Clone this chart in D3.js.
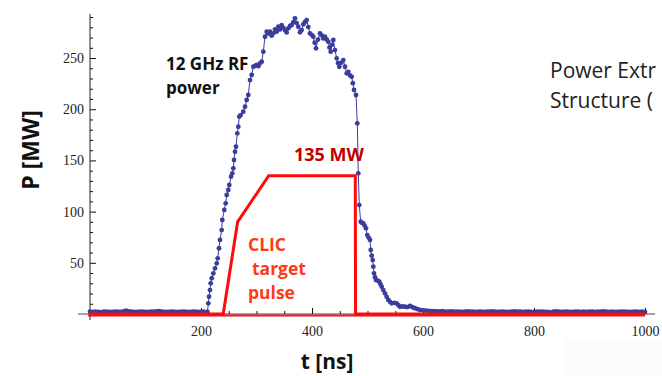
<!DOCTYPE html>
<html>
<head>
<meta charset="utf-8">
<script src="https://cdn.jsdelivr.net/npm/d3@7"></script>
<style>
  body { margin: 0; background: #fff; }
  svg { display: block; }
</style>
</head>
<body>
<svg width="662" height="376"></svg>
<script>
// Measured RF power, leading baseline (every 5 ns from 0 ns).
var preStart = 0, preStep = 5;
var prePower = [2.2, 2.0, 2.3, 2.1, 1.9, 2.2, 2.4, 2.1, 2.0, 2.3, 2.2, 2.1, 2.5, 3.2,
    2.6, 2.2, 2.0, 2.1, 2.3, 2.2, 2.0, 2.1, 2.4, 2.2, 2.6, 2.9, 2.4, 2.1, 2.0, 2.2,
    2.3, 2.1, 2.0, 2.2, 2.4, 2.1, 2.0, 2.3, 2.2, 2.1, 2.0, 2.2];

// Measured RF power, the pulse itself.
var pulseT = [211.7, 213.2, 214.4, 216.2, 217.5, 219.3, 222.2, 225.2, 228.3, 230.1,
    232.4, 234.2, 237.3, 238.4, 242.0, 244.5, 246.3, 249.2, 251.0, 254.1, 256.4,
    258.2, 259.5, 261.3, 263.1, 265.4, 267.2, 269.0, 271.5, 276.2, 279.3, 282.3,
    285.2, 288.3, 291.4, 294.2, 297.3, 300.4, 303.4, 306.3, 309.4, 312.3, 315.3,
    318.4, 321.3, 324.3, 327.3, 330.3, 333.4, 336.4, 339.3, 342.4, 345.4, 348.4,
    351.4, 354.3, 357.3, 360.4, 363.4, 366.4, 369.4, 372.3, 375.3, 378.4, 381.4,
    384.5, 387.5, 390.5, 393.4, 396.4, 399.3, 402.3, 404.8, 407.2, 410.8, 414.4,
    417.4, 420.4, 423.4, 426.4, 429.4, 431.5, 433.7, 436.0, 438.4, 441.4, 444.5,
    446.8, 449.2, 452.8, 456.4, 459.5, 462.5, 465.5, 468.5, 471.5, 473.6, 475.7,
    479.3, 481.6, 483.4, 485.2, 487.7, 490.0, 492.4, 494.8, 497.3, 499.6, 502.0,
    504.5, 505.8, 507.6, 509.4, 510.5, 511.7, 513.5, 515.3, 518.3, 521.3, 523.5,
    525.6, 528.5, 531.5, 534.5, 537.5, 540.5, 543.6, 548.1, 552.6, 555.6, 558.6,
    563.1, 567.6, 572.1, 576.6, 581.1, 585.6, 590.1, 594.6];
var pulseP = [2.0, 10.4, 16.9, 23.4, 30.0, 34.9, 39.7, 44.6, 49.5, 54.4,
    64.2, 72.3, 82.0, 91.8, 101.6, 108.1, 116.2, 121.1, 126.0, 134.1, 137.4,
    142.3, 150.4, 158.5, 163.4, 176.5, 182.9, 192.7, 194.3, 197.6, 202.4, 209.0,
    213.9, 228.5, 233.4, 241.5, 242.4, 243.2, 242.0, 244.8, 246.4, 256.2, 270.8,
    275.7, 273.9, 275.7, 271.8, 274.1, 278.0, 275.7, 280.6, 277.9, 282.2, 279.5,
    277.3, 275.0, 279.0, 281.4, 282.2, 285.0, 288.8, 284.1, 280.6, 275.2, 277.3,
    283.0, 285.4, 287.1, 280.2, 274.1, 272.7, 270.8, 265.0, 259.5, 268.0, 274.1,
    272.2, 269.1, 270.8, 268.2, 265.9, 260.4, 256.2, 262.9, 267.6, 257.8, 249.7,
    245.1, 241.5, 245.5, 248.0, 241.5, 235.1, 236.5, 233.0, 231.7, 225.4, 218.8,
    213.9, 186.2, 137.4, 106.4, 90.1, 89.0, 88.6, 86.4, 83.7, 77.1, 74.6,
    72.3, 62.5, 57.0, 52.7, 46.2, 39.7, 36.0, 33.2, 32.6, 31.5, 29.0,
    26.7, 23.4, 20.2, 16.8, 13.7, 11.9, 10.4, 10.9, 10.4, 8.6, 7.1,
    7.4, 7.1, 6.8, 7.8, 6.6, 5.6, 4.7, 3.9];

// Measured RF power, trailing baseline (every 5 ns from 600 ns).
var postStart = 600, postStep = 5;
var postPower = [3.6, 3.2, 3.0, 2.8, 2.9, 2.6, 2.5, 2.7, 2.4, 2.3, 2.5, 2.2, 2.4, 2.3,
    2.1, 2.2, 2.6, 2.4, 2.2, 2.1, 2.3, 2.2, 2.0, 2.2, 2.4, 2.5, 2.2, 2.1, 2.3, 2.2,
    2.0, 2.1, 2.3, 2.6, 2.4, 2.2, 2.1, 2.2, 2.3, 2.1, 2.0, 2.2, 2.4, 2.2, 2.1, 2.0,
    1.6, 2.3, 2.5, 2.2, 2.1, 2.3, 2.2, 2.0, 2.1, 2.4, 2.3, 2.1, 2.2, 2.0, 2.2, 2.3,
    2.1, 2.2, 2.4, 2.6, 2.3, 2.1, 2.2, 2.0, 2.1, 2.3, 2.2, 2.4, 2.1, 2.0, 2.2, 2.3,
    2.1, 2.2, 2.0];

// CLIC target pulse (corner points).
var targetT = [0, 240, 266, 322, 478, 478.5, 1000];
var targetP = [0, 0, 90, 135, 135, 0, 0];

// Axis ticks.
var xMajor = [200, 400, 600, 800, 1000];
var xMinor = [50, 100, 150, 250, 300, 350, 450, 500, 550, 650, 700, 750, 850, 900, 950];
var yMajor = [50, 100, 150, 200, 250];
var yMinor = [10, 20, 30, 40, 60, 70, 80, 90, 110, 120, 130, 140, 160, 170, 180, 190,
    210, 220, 230, 240, 260, 270, 280, 290];

// Build the measured series.
var rf = [];
prePower.forEach(function (p, i) { rf.push([preStart + i * preStep, p]); });
pulseT.forEach(function (t, i) { rf.push([t, pulseP[i]]); });
postPower.forEach(function (p, i) { rf.push([postStart + i * postStep, p]); });
var target = targetT.map(function (t, i) { return [t, targetP[i]]; });

var svg = d3.select("svg");

var x = d3.scaleLinear().domain([0, 1000]).range([90, 645]);
var y = d3.scaleLinear().domain([0, 293]).range([314, 14]);

// faint block bottom right
svg.append("rect")
    .attr("x", 563).attr("y", 338).attr("width", 99).attr("height", 38)
    .attr("fill", "#fcfcfc");

var serif = "'Liberation Serif', 'DejaVu Serif', serif";
var sans = "'Open Sans', 'Liberation Sans', sans-serif";

// axis lines, origin style
svg.append("line")
    .attr("x1", x(0) - 12).attr("x2", x(1000) + 10)
    .attr("y1", y(0)).attr("y2", y(0))
    .attr("stroke", "#444").attr("stroke-width", 1);
svg.append("line")
    .attr("x1", x(0)).attr("x2", x(0))
    .attr("y1", y(293)).attr("y2", y(0) + 6)
    .attr("stroke", "#222").attr("stroke-width", 1);

// y axis: ticks point into the plot, labels on the left
var yAxis = svg.append("g")
    .attr("transform", "translate(" + x(0) + ",0)")
    .call(d3.axisLeft(y).tickValues(yMajor).tickSizeInner(-6).tickSizeOuter(0).tickPadding(6));
var yAxisMinor = svg.append("g")
    .attr("transform", "translate(" + x(0) + ",0)")
    .call(d3.axisLeft(y).tickValues(yMinor).tickSizeInner(-3).tickSizeOuter(0).tickFormat(""));

// x axis: ticks point up, labels below
var xAxis = svg.append("g")
    .attr("transform", "translate(0," + y(0) + ")")
    .call(d3.axisBottom(x).tickValues(xMajor).tickFormat(d3.format("d"))
        .tickSizeInner(-6).tickSizeOuter(0).tickPadding(12));
var xAxisMinor = svg.append("g")
    .attr("transform", "translate(0," + y(0) + ")")
    .call(d3.axisBottom(x).tickValues(xMinor).tickSizeInner(-3).tickSizeOuter(0).tickFormat(""));

[yAxis, yAxisMinor, xAxis, xAxisMinor].forEach(function (g) {
    g.select(".domain").remove();
    g.selectAll(".tick line").attr("stroke", "#111");
    g.selectAll("text")
        .attr("font-family", serif)
        .attr("font-size", 14)
        .attr("fill", "#222");
});

// red target pulse baseline + shape
var line = d3.line()
    .x(function (d) { return x(d[0]); })
    .y(function (d) { return y(d[1]); });

svg.append("line")
    .attr("x1", x(0) - 2).attr("x2", x(1000))
    .attr("y1", y(0) + 1.5).attr("y2", y(0) + 1.5)
    .attr("stroke", "#e8141e").attr("stroke-width", 2);

// measured RF power
var blue = "#3b3d9c";
svg.append("path")
    .datum(rf)
    .attr("d", line)
    .attr("fill", "none")
    .attr("stroke", blue)
    .attr("stroke-width", 1);
svg.append("g")
    .selectAll("circle")
    .data(rf)
    .join("circle")
    .attr("cx", function (d) { return x(d[0]); })
    .attr("cy", function (d) { return y(d[1]); })
    .attr("r", 2.4)
    .attr("fill", blue);

svg.append("path")
    .datum(target)
    .attr("d", line)
    .attr("fill", "none")
    .attr("stroke", "#ff0a0a")
    .attr("stroke-width", 3)
    .attr("stroke-linejoin", "miter");

// axis titles
svg.append("text")
    .attr("transform", "translate(39,150) rotate(-90)")
    .attr("text-anchor", "middle")
    .attr("font-family", sans).attr("font-weight", "bold").attr("font-size", 23)
    .attr("fill", "#111")
    .text("P [MW]");
svg.append("text")
    .attr("x", 327).attr("y", 369)
    .attr("text-anchor", "middle")
    .attr("font-family", sans).attr("font-weight", "bold").attr("font-size", 21)
    .attr("fill", "#111")
    .text("t [ns]");

// annotations
function label(txt, px, py, size, weight, color) {
    svg.append("text")
        .attr("x", px).attr("y", py)
        .attr("font-family", sans).attr("font-weight", weight).attr("font-size", size)
        .attr("fill", color)
        .text(txt);
}
label("12 GHz RF", 166, 70, 17, "bold", "#111");
label("power", 166, 94, 17, "bold", "#111");
label("135 MW", 294, 161, 18, "bold", "#c00000");
label("CLIC", 248, 251, 17.5, "bold", "#ff3a17");
label("target", 252, 275, 17.5, "bold", "#ff3a17");
label("pulse", 248, 299, 17.5, "bold", "#ff3a17");
label("Power Extr", 550, 78, 21, "normal", "#222");
label("Structure (", 550, 108, 21, "normal", "#222");
</script>
</body>
</html>
